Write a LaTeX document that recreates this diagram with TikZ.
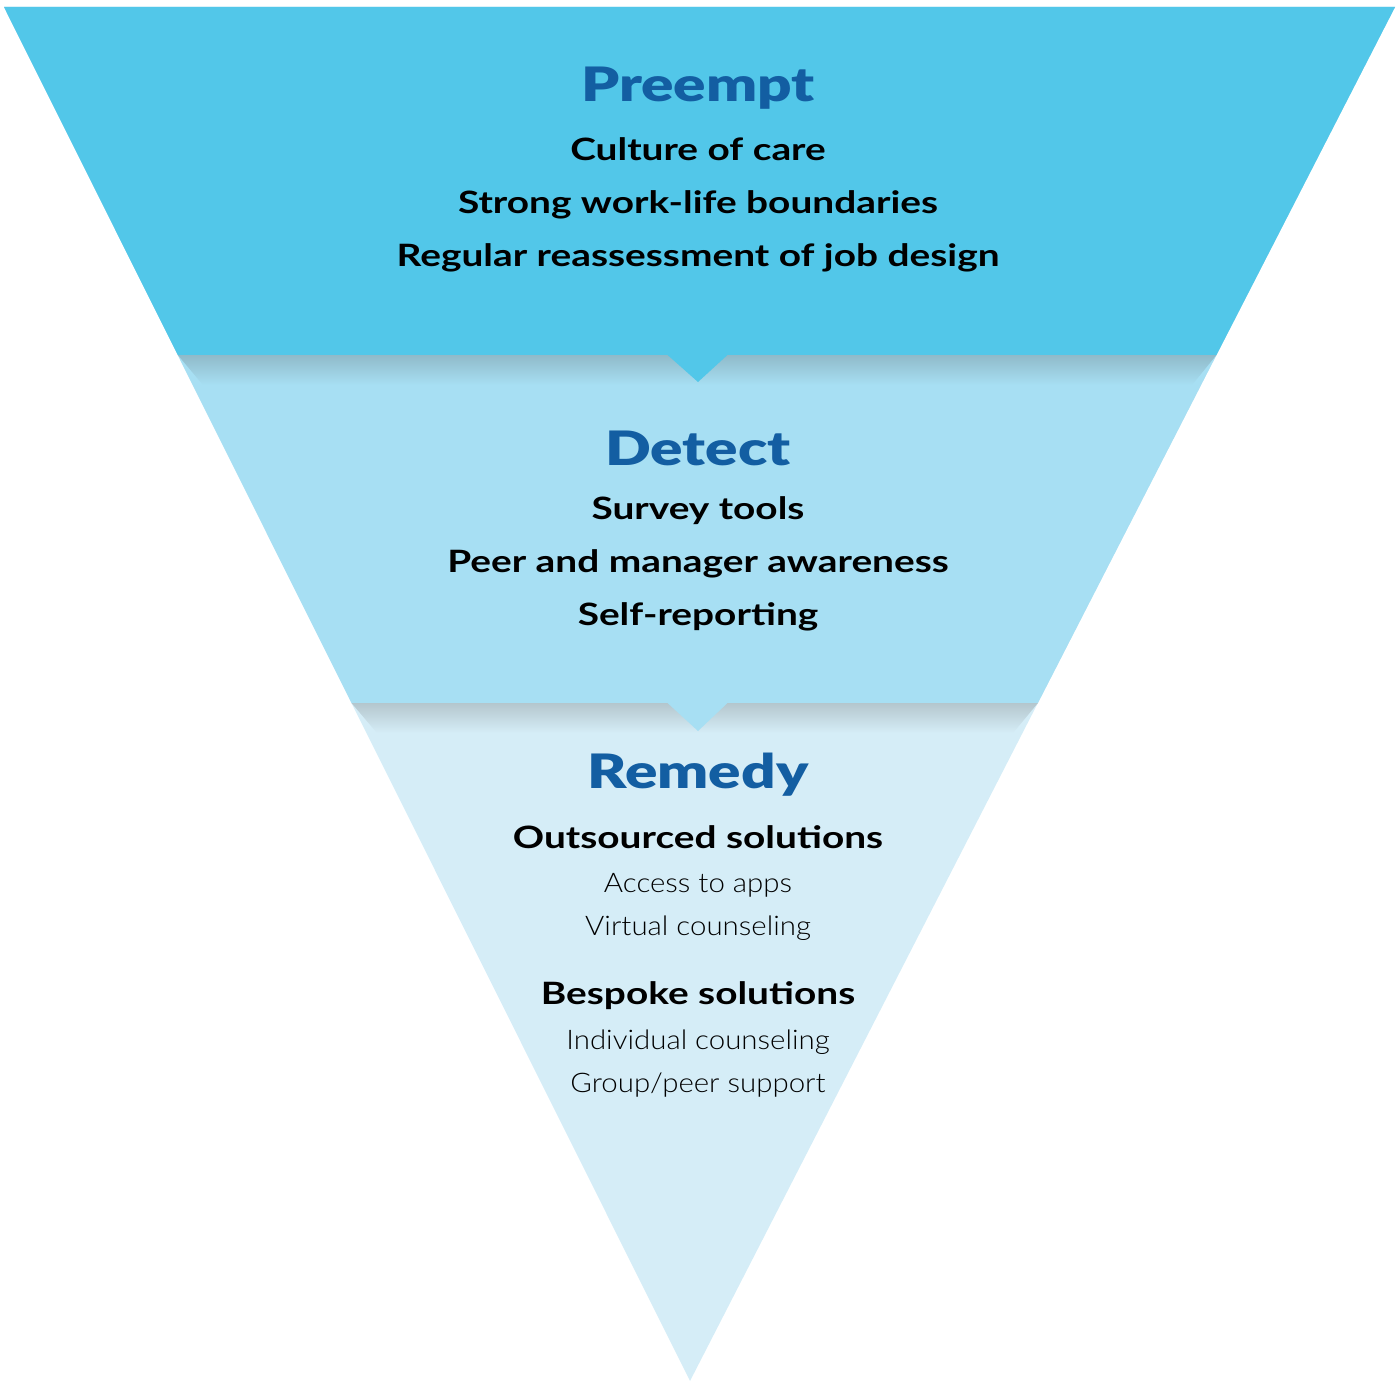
\documentclass[tikz,border=0pt]{standalone}
\usepackage{fontspec}
\setmainfont{Lato}
\newfontfamily\headfont[FakeStretch=1.27]{Lato Black}
\newfontfamily\bodyfont[FakeStretch=1.26]{Lato Bold}
\newfontfamily\lightfont[FakeStretch=1.09]{Lato Light}
\definecolor{topc}{HTML}{52C7E9}
\definecolor{midc}{HTML}{A7DFF3}
\definecolor{botc}{HTML}{D5EDF7}
\definecolor{shadA}{HTML}{8FB9C8}
\definecolor{shadB}{HTML}{B3C5CC}
\definecolor{titlec}{HTML}{135EA2}
\tikzset{
  title/.style={anchor=base, text=titlec, font=\headfont\fontsize{23.7}{26}\selectfont, inner sep=0pt},
  item/.style={anchor=base, text=black, font=\bodyfont\fontsize{15.4}{18}\selectfont, inner sep=0pt},
  sub/.style={anchor=base, text=black, font=\lightfont\fontsize{13.5}{16}\selectfont, inner sep=0pt},
}
\begin{document}
\begin{tikzpicture}[x=0.5pt,y=-0.5pt]
\useasboundingbox (0,0) rectangle (1400,1390);
% whole triangle (Remedy)
\fill[botc] (4,7) -- (1395,7) -- (690,1381) -- cycle;
% Detect band
\fill[midc] (4,7) -- (1395,7) -- (1037.9,703) -- (351.5,703) -- cycle;
% shadow below Detect
\begin{scope}
\clip (351.5,703) -- (1037.9,703) -- (1013,733) -- (377,733) -- cycle;
\shade[top color=shadB, bottom color=botc] (300,702) rectangle (1100,733);
\end{scope}
\fill[midc] (667,702.5) -- (728,702.5) -- (698,731) -- cycle;
% Preempt band
\fill[topc] (4,7) -- (1395,7) -- (1216.4,355) -- (177.8,355) -- cycle;
\begin{scope}
\clip (177.8,355) -- (1216.4,355) -- (1192,385) -- (203,385) -- cycle;
\shade[top color=shadA, bottom color=midc] (150,354) rectangle (1250,385);
\end{scope}
\fill[topc] (667,354.5) -- (728,354.5) -- (698,382) -- cycle;
% texts
\node[title] (t1) at (698,102) {Preempt};
\node[item] (a1) at (698,161) {Culture of care};
\node[item] (a2) at (698,214) {Strong work-life boundaries};
\node[item] (a3) at (698,267) {Regular reassessment of job design};
\node[title] (t2) at (698,465) {Detect};
\node[item] (b1) at (698,519) {Survey tools};
\node[item] (b2) at (698,572) {Peer and manager awareness};
\node[item] (b3) at (698,625) {Self-reporting};
\node[title] (t3) at (698,788) {Remedy};
\node[item] (c1) at (698,848) {Outsourced solutions};
\node[sub] (c2) at (698,892) {Access to apps};
\node[sub] (c3) at (698,935) {Virtual counseling};
\node[item] (c4) at (698,1004) {Bespoke solutions};
\node[sub] (c5) at (698,1049) {Individual counseling};
\node[sub] (c6) at (698,1092) {Group/peer support};
\end{tikzpicture}
\end{document}
